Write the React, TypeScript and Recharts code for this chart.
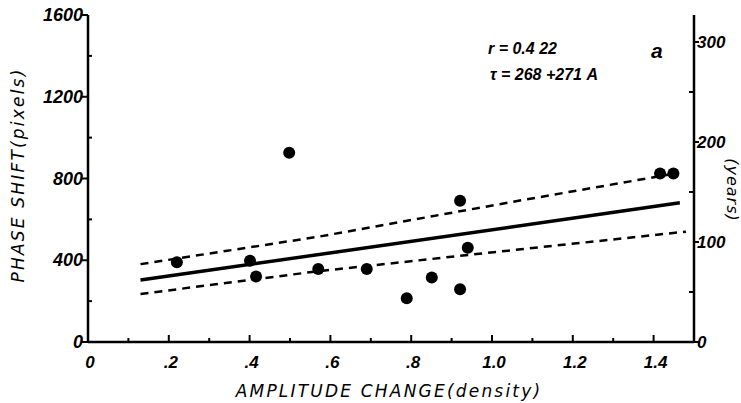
import { ComposedChart, Scatter, XAxis, YAxis } from "recharts";

// measured points: amplitude change (density) vs phase shift (pixels)
const amplitude = [0.22, 0.401, 0.416, 0.498, 0.57, 0.69, 0.789, 0.851, 0.921, 0.921, 0.94, 1.416, 1.449];
const phaseShift = [390, 398, 320, 926, 357, 357, 214, 316, 691, 258, 461, 825, 825];

// regression line and the two dashed bands
const fitA = [0.13, 1.465];
const fitP = [303, 681];
const upperA = [0.13, 0.57, 1.04, 1.455];
const upperP = [381, 515, 682, 825];
const lowerA = [0.13, 0.56, 1.04, 1.48];
const lowerP = [235, 344, 447, 540];

const xTicks = [0, 0.1, 0.2, 0.3, 0.4, 0.5, 0.6, 0.7, 0.8, 0.9, 1.0, 1.1, 1.2, 1.3, 1.4];
const leftTicks = [0, 200, 400, 600, 800, 1000, 1200, 1400, 1600];
const rightTicks = [0, 50, 100, 150, 200, 250, 300];

const pts = amplitude.map((a, i) => ({ a, p: phaseShift[i] }));
const toRows = (xs: number[], ys: number[]) => xs.map((a, i) => ({ a, p: ys[i] }));
const fitRows = toRows(fitA, fitP);
const upperRows = toRows(upperA, upperP);
const lowerRows = toRows(lowerA, lowerP);

const FONT = "'Liberation Sans', Arial, sans-serif";
const LABEL_FONT = "'DejaVu Sans', sans-serif";

const fmtX = (v: number) => {
  if (v === 0) return "0";
  if (v < 1) return "." + Math.round(v * 10);
  return v.toFixed(1);
};

const isMajorX = (v: number) => Math.round(v * 10) % 2 === 0;

const BottomTick = (props: any) => {
  const { x, y, payload } = props;
  const v = payload.value;
  const major = isMajorX(v);
  return (
    <g>
      <line x1={x} y1={y} x2={x} y2={y - (major ? 7 : 4)} stroke="#000" strokeWidth={2} />
      {major && (
        <text x={x + 2} y={y + 26} textAnchor="middle" fontFamily={FONT} fontStyle="italic" fontWeight="bold" fontSize={17} fill="#000">
          {fmtX(v)}
        </text>
      )}
    </g>
  );
};

const TopTick = (props: any) => {
  const { x, y } = props;
  return <line x1={x} y1={y} x2={x} y2={y + 6} stroke="#000" strokeWidth={2} />;
};

const LeftTick = (props: any) => {
  const { x, y, payload } = props;
  const v = payload.value;
  const major = v % 400 === 0;
  if (!major) return <line x1={x} y1={y} x2={x + 4} y2={y} stroke="#000" strokeWidth={2} />;
  return (
    <g>
      <line x1={x - 6} y1={y} x2={x} y2={y} stroke="#000" strokeWidth={2} />
      <text x={x - 5} y={y + 6} textAnchor="end" fontFamily={FONT} fontStyle="italic" fontWeight="bold" fontSize={18} fill="#000">
        {v}
      </text>
    </g>
  );
};

const RightTick = (props: any) => {
  const { x, y, payload } = props;
  const v = payload.value;
  const major = v % 100 === 0;
  if (!major) return <line x1={x - 5} y1={y} x2={x} y2={y} stroke="#000" strokeWidth={2} />;
  return (
    <g>
      <line x1={x} y1={y} x2={x + 5} y2={y} stroke="#000" strokeWidth={2} />
      <text x={x + 3} y={y + 6} textAnchor="start" fontFamily={FONT} fontStyle="italic" fontWeight="bold" fontSize={17} fill="#000" fillOpacity={1}>
        {v}
      </text>
    </g>
  );
};

const Dot = (props: any) => <circle cx={props.cx} cy={props.cy} r={6} fill="#000" />;
const NoDot = () => <g />;

const label: React.CSSProperties = {
  position: "absolute",
  fontFamily: LABEL_FONT,
  fontStyle: "italic",
  color: "#000",
  lineHeight: 1,
  whiteSpace: "nowrap",
};

export default function App() {
  return (
    <div style={{ position: "absolute", left: 0, top: 0, width: 741, height: 403, background: "#fff" }}>
      <ComposedChart width={741} height={403} margin={{ top: 15, right: 0, bottom: 0, left: 0 }}>
        <XAxis
          xAxisId="bottom"
          type="number"
          dataKey="a"
          domain={[0, 1.5]}
          allowDataOverflow
          ticks={xTicks}
          interval={0}
          height={61}
          tickSize={0}
          tickMargin={0}
          tickLine={false}
          axisLine={{ stroke: "#000", strokeWidth: 2.5 }}
          tick={<BottomTick />}
        />
        <XAxis
          xAxisId="top"
          orientation="top"
          type="number"
          dataKey="a"
          domain={[0, 1.5]}
          allowDataOverflow
          ticks={xTicks}
          interval={0}
          height={0}
          tickSize={0}
          tickMargin={0}
          tickLine={false}
          axisLine={{ stroke: "#000", strokeWidth: 2.5 }}
          tick={<TopTick />}
        />
        <YAxis
          yAxisId="left"
          type="number"
          dataKey="p"
          domain={[0, 1600]}
          allowDataOverflow
          ticks={leftTicks}
          interval={0}
          width={88}
          tickSize={0}
          tickMargin={0}
          tickLine={false}
          axisLine={{ stroke: "#000", strokeWidth: 2.5 }}
          tick={<LeftTick />}
        />
        <YAxis
          yAxisId="right"
          orientation="right"
          type="number"
          dataKey="p"
          domain={[0, 327]}
          allowDataOverflow
          ticks={rightTicks}
          interval={0}
          width={47}
          tickSize={0}
          tickMargin={0}
          tickLine={false}
          axisLine={{ stroke: "#000", strokeWidth: 2.5 }}
          tick={<RightTick />}
        />
        <Scatter
          xAxisId="bottom"
          yAxisId="left"
          data={upperRows}
          shape={<NoDot />}
          line={{ stroke: "#000", strokeWidth: 2.5, strokeDasharray: "8 6" }}
          isAnimationActive={false}
        />
        <Scatter
          xAxisId="bottom"
          yAxisId="left"
          data={lowerRows}
          shape={<NoDot />}
          line={{ stroke: "#000", strokeWidth: 2.5, strokeDasharray: "8 6" }}
          isAnimationActive={false}
        />
        <Scatter
          xAxisId="bottom"
          yAxisId="left"
          data={fitRows}
          shape={<NoDot />}
          line={{ stroke: "#000", strokeWidth: 3.5 }}
          isAnimationActive={false}
        />
        <Scatter xAxisId="bottom" yAxisId="left" data={pts} shape={<Dot />} isAnimationActive={false} />
        {/* years axis has no series of its own; an empty one ties it into the chart */}
        <Scatter xAxisId="top" yAxisId="right" data={[]} shape={<NoDot />} isAnimationActive={false} />
      </ComposedChart>

      <div style={{ ...label, fontFamily: FONT, fontWeight: "bold", left: 488, top: 41, fontSize: 16 }}>r = 0.4 22</div>
      <div style={{ ...label, fontFamily: FONT, fontWeight: "bold", left: 490, top: 67, fontSize: 16 }}>τ = 268 +271 A</div>
      <div style={{ ...label, fontFamily: FONT, left: 651, top: 40, fontSize: 21, fontWeight: "bold" }}>a</div>

      <div
        style={{
          ...label,
          left: 18,
          top: 175,
          fontSize: 17,
          letterSpacing: 2.2,
          transform: "translate(-50%, -50%) rotate(-90deg)",
        }}
      >
        PHASE SHIFT(pixels)
      </div>
      <div style={{ ...label, left: 389, top: 391, fontSize: 17, letterSpacing: 2.2, transform: "translate(-50%, -50%)" }}>
        AMPLITUDE CHANGE(density)
      </div>
      <div
        style={{
          ...label,
          left: 732,
          top: 190,
          fontSize: 16,
          letterSpacing: 1,
          transform: "translate(-50%, -50%) rotate(90deg)",
        }}
      >
        (years)
      </div>
    </div>
  );
}
